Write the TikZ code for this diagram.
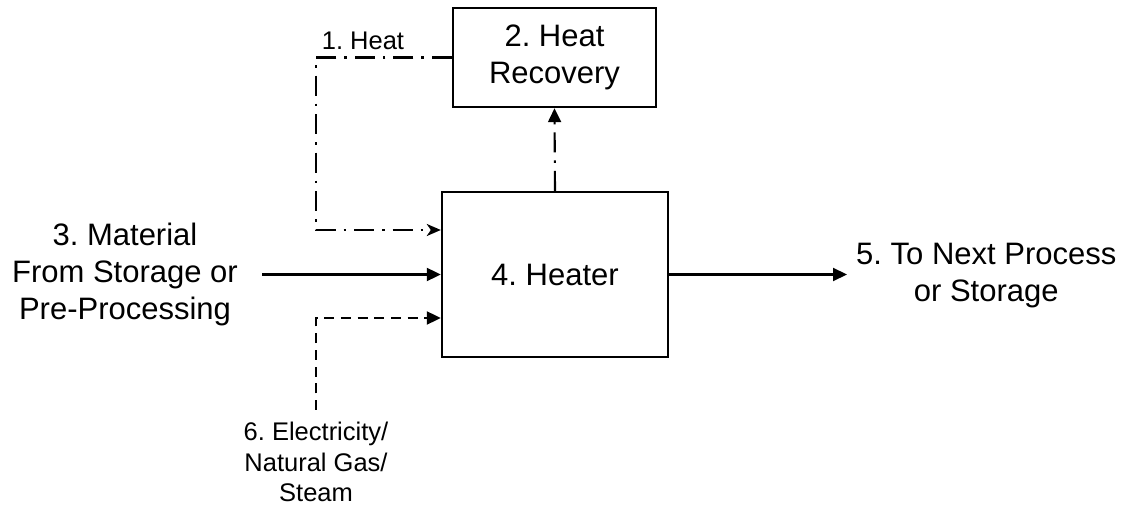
\documentclass[tikz,border=0pt]{standalone}
\usepackage{fontspec}
\setmainfont{Liberation Sans}
\frenchspacing
\usetikzlibrary{arrows.meta}
\begin{document}
\begin{tikzpicture}[x=1pt,y=1pt,
  box/.style={draw, line width=2.4pt, inner sep=0pt, align=center},
  bigtext/.style={font=\fontsize{31}{37}\selectfont, align=center, inner sep=0pt},
  smalltext/.style={font=\fontsize{25.5}{30.5}\selectfont, align=center, inner sep=0pt},
  conn/.style={line width=2.1pt},
  solidtip/.style={-{Triangle[length=14pt,width=13pt]}},
  stealthtip/.style={-{Stealth[length=14pt,width=12pt,inset=4pt]}},
  dashdot/.style={dash pattern=on 20pt off 8pt on 2.5pt off 8pt},
  dashedline/.style={dash pattern=on 10pt off 6.7pt}
]
\useasboundingbox (0,0) rectangle (1130,506);
% boxes
\node[box, bigtext, minimum width=226pt, minimum height=165pt] (heater) at (555,231.5) {4. Heater};
\node[box, bigtext, minimum width=203pt, minimum height=99pt] (hr) at (554.5,448.5) {2. Heat\\Recovery};
% labels
\node[bigtext] (mat) at (125,232) {3. Material\\From Storage or\\Pre-Processing};
\node[bigtext, anchor=west] (next) at (856,230) {5. To Next Process\\or Storage};
\node[smalltext] (heatlbl) at (363,465) {1. Heat};
\node[smalltext] (elec) at (316,44) {6. Electricity/\\Natural Gas/\\Steam};
% coordinates
\coordinate (matstart) at (262,231.5);
\coordinate (nextend) at (847,231.5);
\coordinate (hc1) at (316,448.5);
\coordinate (hc2) at (316,276);
\coordinate (ec1) at (316,96);
\coordinate (ec2) at (316,188);
% connectors
\draw[conn, solidtip] (matstart) -- (heater.west);
\draw[conn, solidtip] (heater.east) -- (nextend);
\draw[conn, dashdot, solidtip] (heater.north) -- (hr.south);
\draw[conn, dashdot, stealthtip] (hr.west) -- (hc1) -- (hc2) -- (heater.west |- hc2);
\draw[conn, dashedline, solidtip] (ec1) -- (ec2) -- (heater.west |- ec2);
\end{tikzpicture}
\end{document}
